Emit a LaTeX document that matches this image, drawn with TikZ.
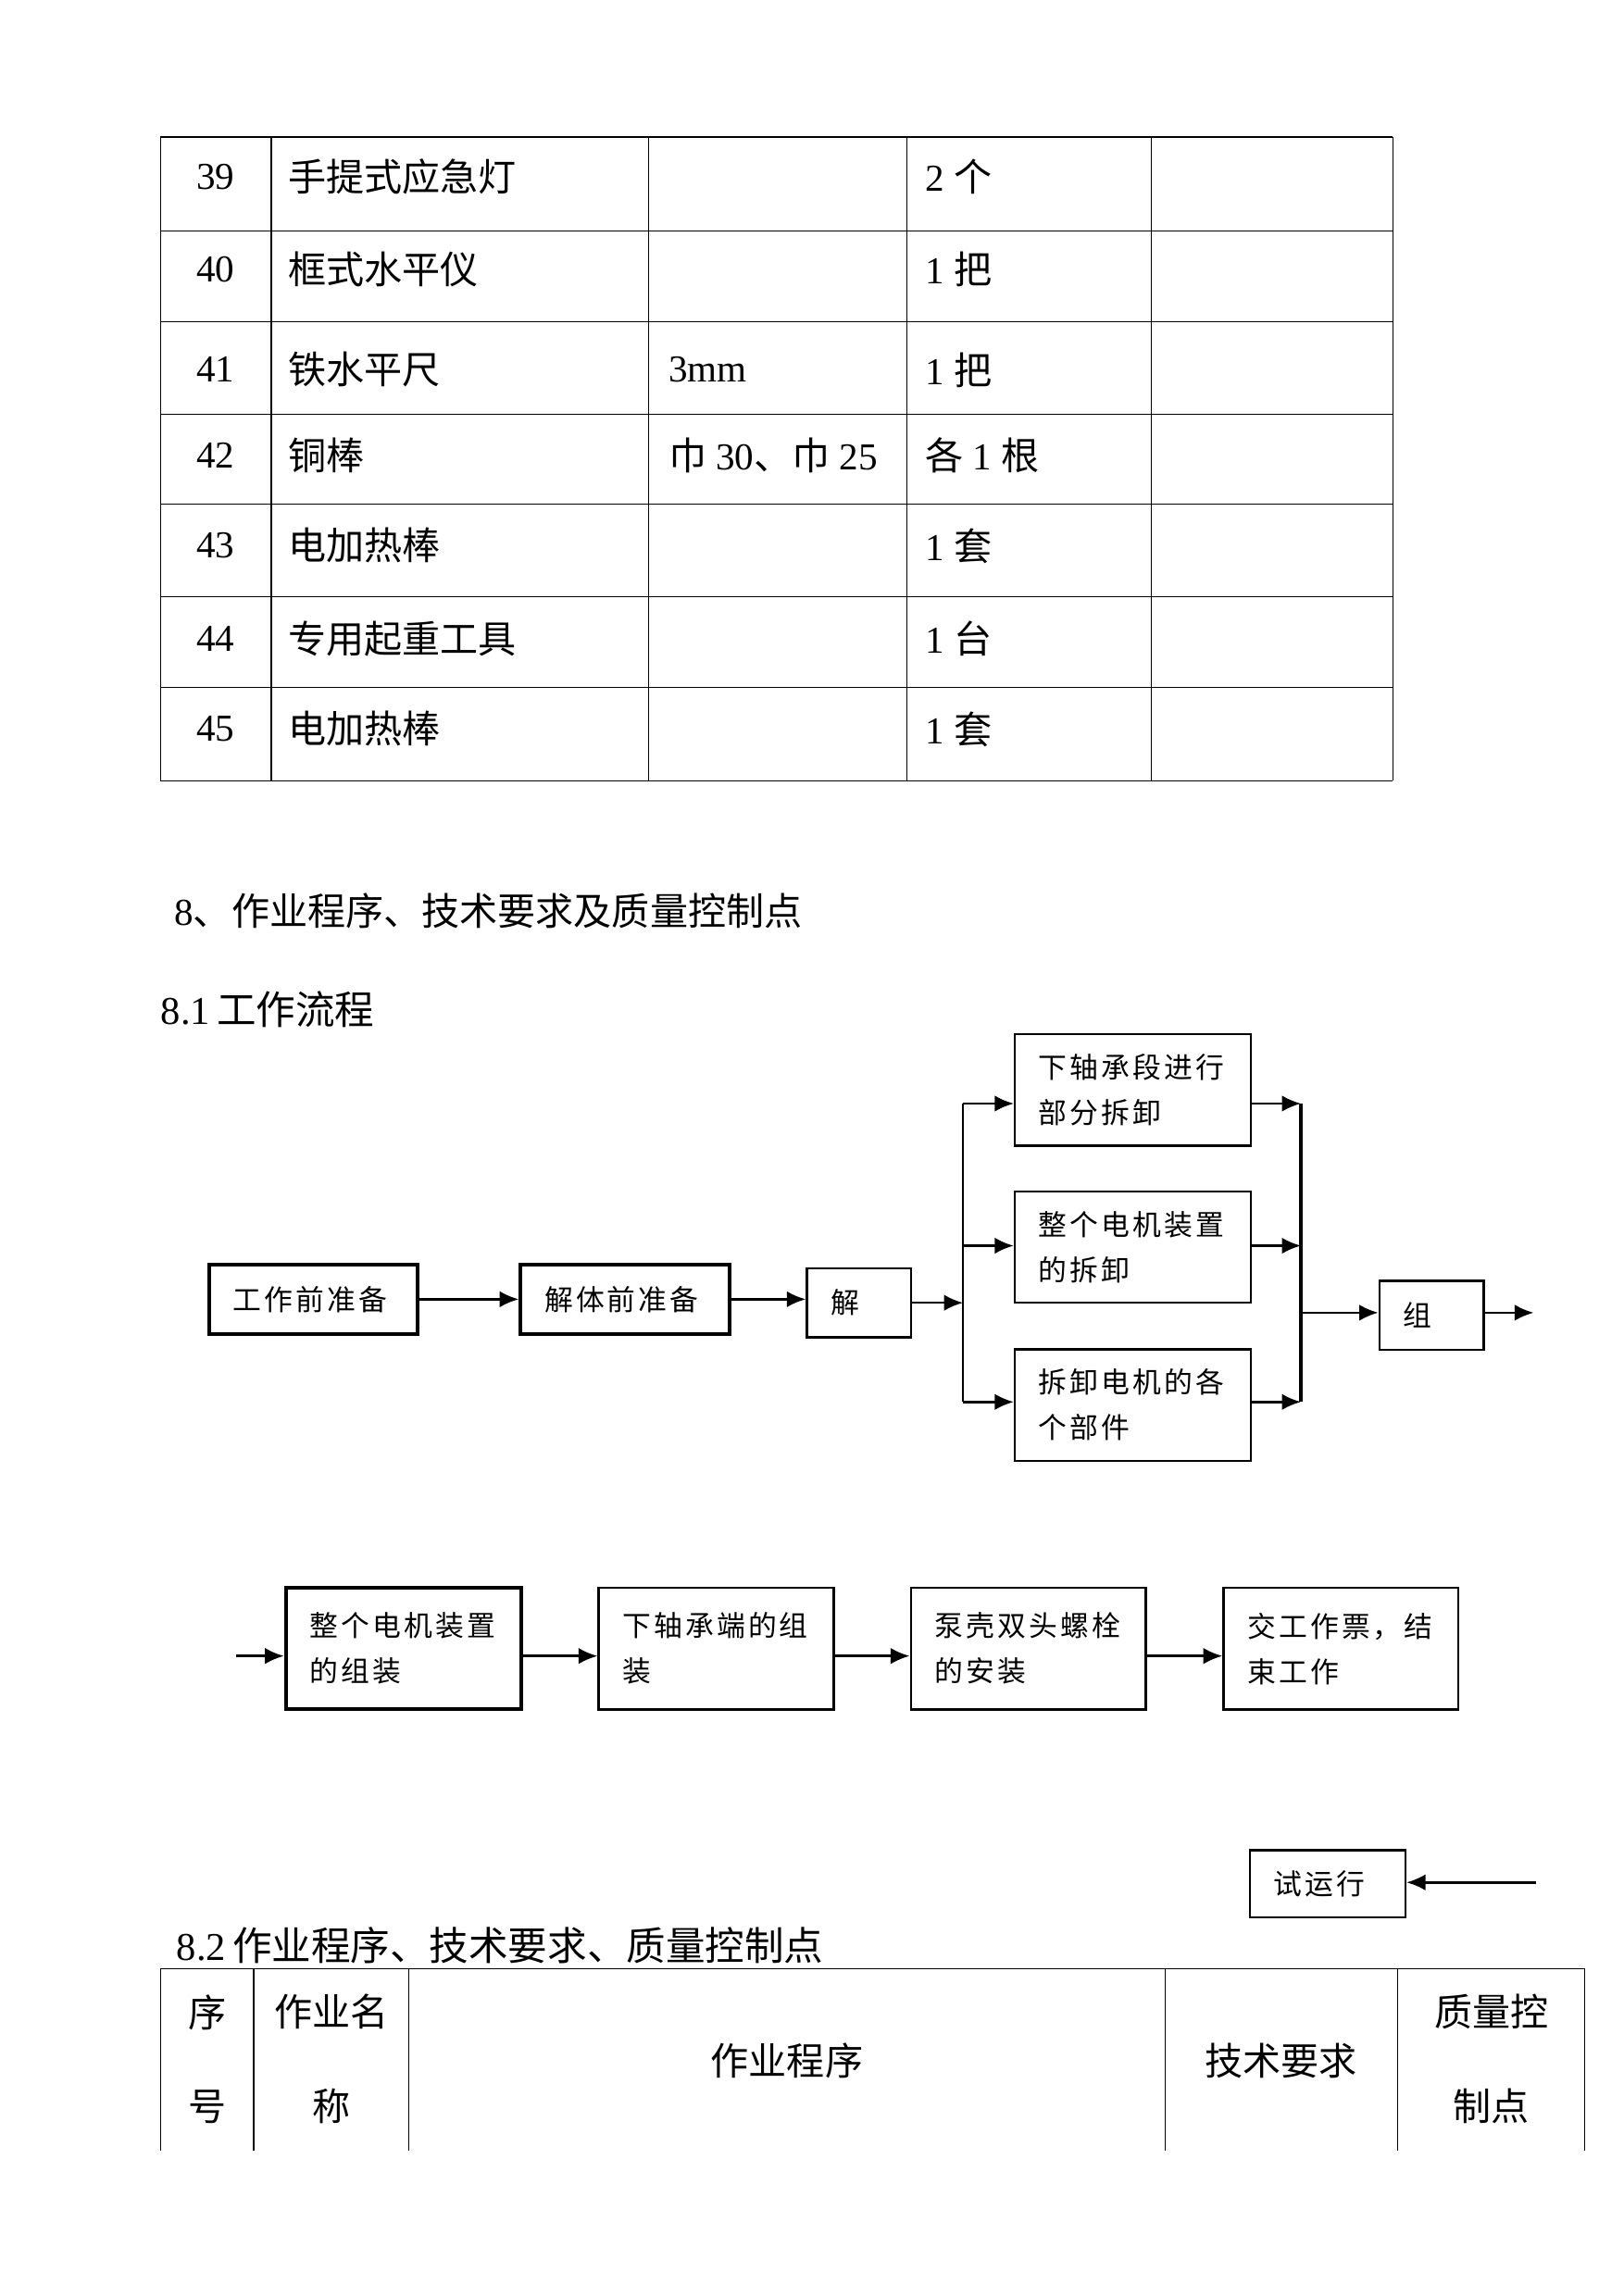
\documentclass[tikz,border=0pt]{standalone}
\usepackage{fontspec}
\setmainfont{Liberation Serif}
\newfontfamily\cjk{Noto Sans CJK SC}
\newfontfamily\cjkbox[LetterSpace=10]{Noto Sans CJK SC}
\newcommand\zh[1]{{\cjk #1}}
\usetikzlibrary{arrows.meta}
\begin{document}
\begin{tikzpicture}[x=0.18919mm, y=-0.18919mm,
  txt/.style={font=\fontsize{14}{16.8}\selectfont, inner sep=0pt},
  hd/.style={txt, anchor=west},
  grid/.style={line width=0.4pt},
  fbox/.style={draw, line width=0.8pt, align=left, inner xsep=3.1mm, inner ysep=0pt,
    font=\cjkbox\fontsize{10.5}{16.7}\selectfont},
  heavy/.style={line width=1.4pt},
  boxw/.style={minimum width=27mm, text width=20.8mm, minimum height=9mm},
  boxs/.style={minimum width=13.5mm, text width=7.3mm, minimum height=8.9mm},
  boxb/.style={minimum width=30.5mm, text width=24.3mm, minimum height=14.4mm},
  boxr/.style={minimum width=30.4mm, text width=24.2mm, minimum height=15.7mm},
  boxt/.style={minimum width=20.1mm, text width=13.9mm, minimum height=8.7mm},
  arr/.style={-{Latex[length=7pt,width=6pt]}, line width=0.9pt}]
\useasboundingbox (0,0) rectangle (1110,1569.8);
% table of tools
\foreach \y in {93.7,157.9,219.7,283.2,344.9,408.1,470.2,533.7}
  \draw[grid] (109.7,\y) -- (952.2,\y);
\foreach \x in {109.7,185.5,443.2,620,787.3,952.2}
  \draw[grid] (\x,93.7) -- (\x,533.7);
\foreach \n/\y/\name/\qty in {39/120.8/手提式应急灯/{2 \zh{个}},
    40/184.3/框式水平仪/{1 \zh{把}}, 41/252.8/铁水平尺/{1 \zh{把}},
    42/311.4/铜棒/{\zh{各} 1 \zh{根}}, 43/373.1/电加热棒/{1 \zh{套}},
    44/436.7/专用起重工具/{1 \zh{台}}, 45/498.4/电加热棒/{1 \zh{套}}}{
  \node[txt] (no\n) at (147.3,\y) {\n};
  \node[txt, anchor=west] (nm\n) at (196.8,\y) {\zh{\name}};
  \node[txt, anchor=west] (qt\n) at (632.2,\y) {\qty};
}
\node[txt, anchor=west] (sp41) at (456.7,252.8) {3mm};
\node[txt, anchor=west] (sp42) at (456.7,311.4) {\zh{巾} 30\zh{、巾} 25};
% headings
\node[hd] (h8) at (118.9,622.5) {8\zh{、作业程序、技术要求及质量控制点}};
\node[hd, font=\fontsize{14.5}{17}\selectfont] (h81) at (109.7,690.3) {8.1\,\zh{工作流程}};
\node[hd, font=\fontsize{14.5}{17}\selectfont] (h82) at (120.4,1330) {8.2\,\zh{作业程序、技术要求、质量控制点}};
% flow, first row
\node[fbox, heavy, boxw] (blk0) at (214.2,888.3) {工作前准备};
\node[fbox, heavy, boxw] (blk1) at (427.3,888.3) {解体前准备};
\node[fbox, boxs] (blk2) at (587.3,890.7) {解};
\node[fbox, boxb] (blk3) at (774.4,745.2) {下轴承段进行\\部分拆卸};
\node[fbox, boxb] (blk4) at (774.4,852.6) {整个电机装置\\的拆卸};
\node[fbox, boxb] (blk5) at (774.4,960.6) {拆卸电机的各\\个部件};
\node[fbox, boxs] (blk6) at (978.7,899.3) {组};
\coordinate (lt) at (658.4,754.5);
\coordinate (lm) at (658.4,851.7);
\coordinate (lb) at (658.4,958.5);
\coordinate (rt) at (889.4,754.5);
\coordinate (rm) at (889.4,851.7);
\coordinate (rb) at (889.4,958.5);
\coordinate (rz) at (889.4,897.5);
\coordinate (zout) at (1048.5,897.5);
\draw[arr] (blk0) -- (blk1);
\draw[arr] (blk1.east) -- (blk2.west |- blk1.east);
\draw[arr] (blk2.east) -- (blk2.east -| lt);
\draw[line width=0.8pt] (lt) -- (lb);
\draw[arr] (lt) -- (lt -| blk3.west);
\draw[arr] (lm) -- (lm -| blk4.west);
\draw[arr] (lb) -- (lb -| blk5.west);
\draw[line width=1.4pt] (rt) -- (rb);
\draw[arr] (blk3.east |- rt) -- (rt);
\draw[arr] (blk4.east |- rm) -- (rm);
\draw[arr] (blk5.east |- rb) -- (rb);
\draw[arr] (rz) -- (rz -| blk6.west);
\draw[arr] (blk6.east |- zout) -- (zout);
% flow, second row
\node[fbox, heavy, boxr] (blk7) at (275.8,1127.2) {整个电机装置\\的组装};
\node[fbox, boxr] (blk8) at (489.6,1127.2) {下轴承端的组\\装};
\node[fbox, boxr] (blk9) at (703,1127.2) {泵壳双头螺栓\\的安装};
\node[fbox, boxr] (blk10) at (916.8,1127.2) {交工作票，结\\束工作};
\node[fbox, boxt] (blk11) at (907.7,1288) {试运行};
\coordinate (in2) at (161.4,1132.2);
\coordinate (sin) at (1050,1287);
\draw[arr] (in2) -- (in2 -| blk7.west);
\draw[arr] (blk7.east |- in2) -- (blk8.west |- in2);
\draw[arr] (blk8.east |- in2) -- (blk9.west |- in2);
\draw[arr] (blk9.east |- in2) -- (blk10.west |- in2);
\draw[arr] (sin) -- (sin -| blk11.east);
% table of steps
\draw[grid] (109.7,1345.8) -- (1083.2,1345.8);
\foreach \x in {109.7,173.4,279.6,796.4,955.7,1083.2}
  \draw[grid] (\x,1345.8) -- (\x,1470.1);
\node[txt, align=center, font=\cjk\fontsize{14}{34.6}\selectfont] (th0) at (141.6,1407.8) {序\\号};
\node[txt, align=center, font=\cjk\fontsize{14}{34.6}\selectfont] (th1) at (226.5,1407.8) {作业名\\称};
\node[txt] (th2) at (538,1408.8) {\zh{作业程序}};
\node[txt] (th3) at (875.8,1408.8) {\zh{技术要求}};
\node[txt, align=center, font=\cjk\fontsize{14}{34.6}\selectfont] (th4) at (1019.5,1407.8) {质量控\\制点};
\end{tikzpicture}
\end{document}
